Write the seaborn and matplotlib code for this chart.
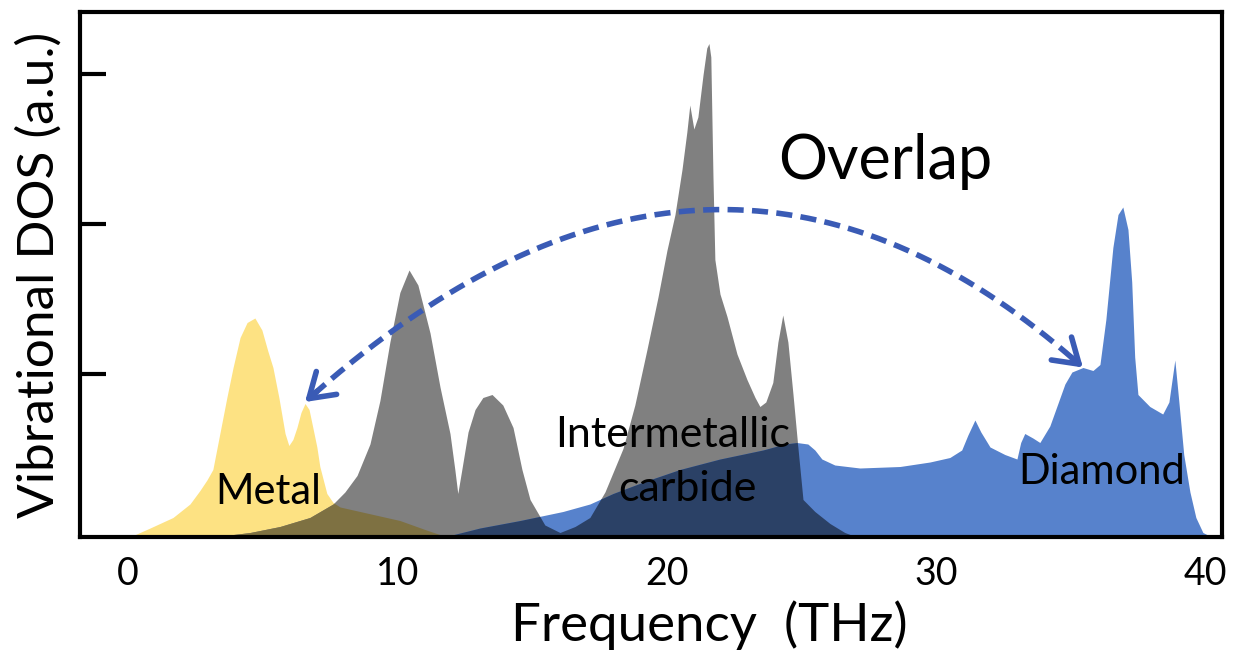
import numpy as np
import matplotlib
matplotlib.use("Agg")
import matplotlib.pyplot as plt
import seaborn as sns

# ---------------- data ----------------
metal_f = [0.07, 0.82, 1.67, 2.30, 2.67, 2.93, 3.15, 3.41, 3.67, 3.90, 4.16, 4.42,
           4.71, 4.97, 5.19, 5.38, 5.60, 5.83, 5.97, 6.12, 6.27, 6.42, 6.57, 6.72,
           6.86, 7.01, 7.12, 7.38, 7.61, 7.87, 8.61, 9.35, 10.09, 11.02, 11.84]
metal_h = [0.00, 0.06, 0.13, 0.22, 0.31, 0.38, 0.45, 0.69, 0.93, 1.13, 1.33, 1.43,
           1.46, 1.38, 1.24, 1.13, 0.93, 0.69, 0.61, 0.65, 0.73, 0.83, 0.89, 0.85,
           0.73, 0.60, 0.47, 0.29, 0.23, 0.20, 0.17, 0.14, 0.11, 0.05, 0.00]

carbide_f = [3.15, 4.53, 5.64, 6.75, 7.61, 8.05, 8.50, 8.98, 9.35, 9.72, 10.09, 10.43,
             10.76, 11.21, 11.58, 11.95, 12.13, 12.24, 12.39, 12.62, 12.88, 13.17, 13.51,
             13.91, 14.29, 14.62, 14.92, 15.47, 16.03, 16.59, 17.14, 17.70, 18.37, 18.81,
             19.26, 19.67, 20.00, 20.30, 20.56, 20.74, 20.85, 21.00, 21.15, 21.34, 21.48,
             21.56, 21.63, 21.71, 21.78, 21.97, 22.23, 22.60, 22.97, 23.27, 23.45, 23.67,
             23.93, 24.12, 24.30, 24.49, 24.68, 24.86, 25.05, 25.49, 26.05, 26.60, 27.05]
carbide_h = [0.00, 0.03, 0.07, 0.13, 0.22, 0.30, 0.41, 0.62, 0.91, 1.30, 1.63, 1.78,
             1.68, 1.36, 1.00, 0.69, 0.45, 0.29, 0.45, 0.70, 0.85, 0.93, 0.95,
             0.88, 0.73, 0.45, 0.25, 0.08, 0.03, 0.07, 0.13, 0.30, 0.59, 0.88,
             1.25, 1.60, 1.91, 2.15, 2.45, 2.70, 2.88, 2.72, 2.80, 3.08, 3.26,
             3.29, 3.20, 2.40, 1.85, 1.62, 1.47, 1.22, 1.05, 0.93, 0.87, 0.90,
             1.03, 1.30, 1.48, 1.30, 0.95, 0.60, 0.25, 0.17, 0.09, 0.03, 0.00]

diamond_f = [11.21, 11.95, 13.06, 14.55, 16.14, 17.14, 18.00, 19.18, 20.48, 21.97, 23.56,
             24.38, 24.82, 25.23, 25.49, 25.75, 26.23, 27.16, 28.65, 29.76, 30.50, 30.94,
             31.17, 31.43, 31.65, 31.99, 32.54, 32.99, 33.13, 33.28, 33.58, 33.84, 34.21,
             34.47, 34.77, 35.03, 35.44, 35.81, 36.07, 36.29, 36.55, 36.74, 36.92, 37.11,
             37.25, 37.36, 37.48, 37.92, 38.40, 38.63, 38.85, 39.00, 39.18, 39.41, 39.63,
             39.89, 40.22]
diamond_h = [0.00, 0.01, 0.06, 0.11, 0.17, 0.22, 0.29, 0.37, 0.45, 0.52, 0.58,
             0.62, 0.63, 0.62, 0.58, 0.52, 0.48, 0.46, 0.47, 0.50, 0.53, 0.58,
             0.68, 0.78, 0.70, 0.60, 0.55, 0.52, 0.63, 0.69, 0.66, 0.63, 0.74,
             0.87, 1.02, 1.10, 1.13, 1.11, 1.15, 1.45, 1.93, 2.15, 2.20, 2.05,
             1.70, 1.20, 0.95, 0.87, 0.82, 0.90, 1.18, 0.90, 0.55, 0.30, 0.13,
             0.03, 0.00]

x_ticks = [0, 10, 20, 30, 40]
series_names = ["Metal", "Intermetallic carbide", "Diamond"]

# ---------------- style ----------------
sns.set_theme(style="white")
plt.rcParams["font.family"] = ["Lato", "DejaVu Sans"]

c_metal = np.array([0.992, 0.886, 0.514])
c_carb = np.array([0.50, 0.50, 0.50])
c_diam = np.array([0.34, 0.51, 0.80])
arrow_c = "#3a5bb5"

fig = plt.figure(figsize=(12.36, 6.59), dpi=100)
ax = fig.add_axes([80 / 1236, 1 - 537 / 659, (1222 - 80) / 1236, (537 - 12) / 659])

# common grid for overlap (multiply-like blending)
grid = np.unique(np.concatenate([metal_f, carbide_f, diamond_f,
                                 np.linspace(0, 40.5, 2000)]))
def on_grid(f, h):
    return np.interp(grid, f, h, left=0, right=0)

gm, gc, gd = on_grid(metal_f, metal_h), on_grid(carbide_f, carbide_h), on_grid(diamond_f, diamond_h)

ax.fill_between(grid, 0, gm, color=c_metal, lw=0, zorder=1)
ax.fill_between(grid, 0, gc, color=c_carb, lw=0, zorder=2)
ax.fill_between(grid, 0, gd, color=c_diam, lw=0, zorder=3)
ax.fill_between(grid, 0, np.minimum(gm, gc), color=c_metal * c_carb, lw=0, zorder=4)
ax.fill_between(grid, 0, np.minimum(gc, gd), color=c_carb * c_diam, lw=0, zorder=4)
ax.fill_between(grid, 0, np.minimum(gm, gd), color=c_metal * c_diam, lw=0, zorder=4)
ax.fill_between(grid, 0, np.minimum(np.minimum(gm, gc), gd),
                color=c_metal * c_carb * c_diam, lw=0, zorder=5)

# ---------------- dashed double arrow ----------------
P0 = np.array([6.57, 0.90])
P2 = np.array([35.44, 1.13])
apex = np.array([21.34, 2.18])
P1 = 2 * apex - 0.5 * (P0 + P2)
def bez(t):
    t = np.asarray(t)[..., None]
    return (1 - t) ** 2 * P0 + 2 * (1 - t) * t * P1 + t ** 2 * P2
t = np.linspace(0.01, 0.99, 300)
pts = bez(t)
sns.lineplot(x=pts[:, 0], y=pts[:, 1], sort=False, ax=ax, color=arrow_c,
             lw=4.0, dashes=False, zorder=6).lines[-1].set_dashes([2.9, 1.5])
for tip, back in [(bez(0.0), bez(0.015)), (bez(1.0), bez(0.985))]:
    ax.annotate("", xy=tuple(tip), xytext=tuple(back),
                arrowprops=dict(arrowstyle="->,head_length=0.85,head_width=0.55",
                                color=arrow_c, lw=4.0, shrinkA=0, shrinkB=0,
                                mutation_scale=20),
                zorder=7)

# ---------------- text ----------------
ax.text(5.19, 0.30, "Metal", fontsize=30, ha="center", va="center", color="black", zorder=8)
ax.text(20.2, 0.68, "Intermetallic", fontsize=31, ha="center", va="center", color="black", zorder=8)
ax.text(20.75, 0.32, "carbide", fontsize=31, ha="center", va="center", color="black", zorder=8)
ax.text(36.15, 0.43, "Diamond", fontsize=30, ha="center", va="center", color="black", zorder=8)
ax.text(28.1, 2.50, "Overlap", fontsize=44, ha="center", va="center", color="black", zorder=8)

# ---------------- axes ----------------
ax.set_xlim(-1.78, 40.6)
ax.set_ylim(0, 3.5)
ax.set_xticks(x_ticks)
ax.set_xticklabels([str(v) for v in x_ticks])
ax.set_yticks([1.09, 2.09, 3.09])
ax.set_yticklabels([])
ax.tick_params(axis="x", length=0, labelsize=27, pad=14, colors="black")
ax.tick_params(axis="y", direction="in", length=19, width=3, left=True, colors="black")
for s in ax.spines.values():
    s.set_visible(True)
    s.set_linewidth(3)
    s.set_color("black")
    s.set_zorder(10)
ax.set_xlabel("Frequency  (THz)", fontsize=38, color="black")
ax.xaxis.set_label_coords(0.551, -0.168)
ax.xaxis.label.set_va("center")
ax.set_ylabel("Vibrational DOS (a.u.)", fontsize=37, color="black")
ax.yaxis.set_label_coords(-0.036, 0.5)
ax.yaxis.label.set_va("center")

fig.savefig("out.png", dpi=100)
